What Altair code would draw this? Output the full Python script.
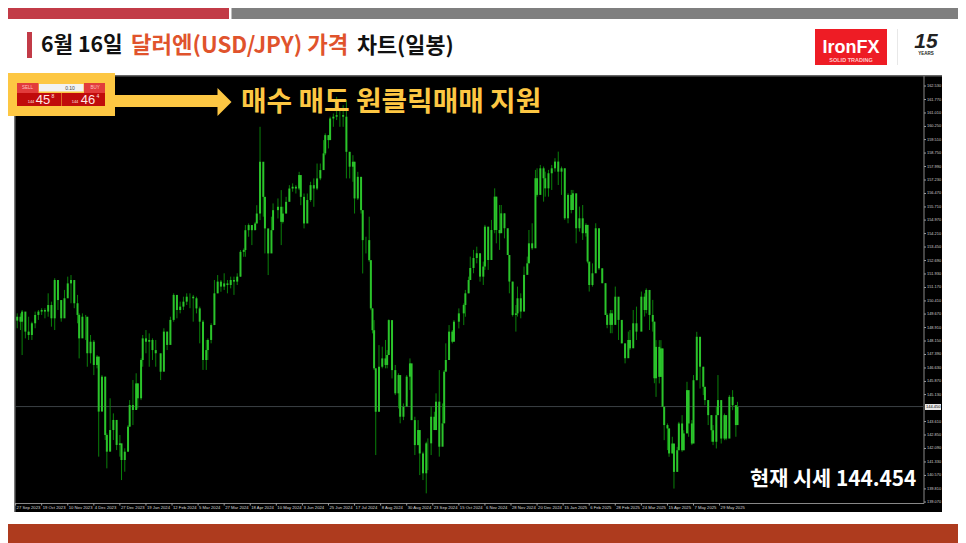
import altair as alt
import pandas as pd

# ---- chart values ----
sessions = [1,3,4,6,8,10,12,14,16,18,20,22,24,26,28,30,32,34,36,38,39,41,43,44,46,48,50,51,53,55,56,58,60,62,64,65,67,69,70,72,74,75,77,78,80,82,84,86,89,91,93,95,97,99,101,103,105,107,109,111,113,115,117,118,120,122,124,126,128,130,132,134,136,
138,140,141,143,145,147,148,150,152,153,155,157,158,161,163,164,166,168,170,172,174,175,177,179,181,183,185,187,189,190,192,193,195,197,199,201,203,205,207,208,210,212,213,215,217,218,219,
220,221,223,225,227,228,229,231,233,235,236,238,240,242,243,245,247,248,250,252,253,255,257,258,260,262,263,264,266,268,269,272,275,276,278,
279,281,283,285,287,288,290,292,294,295,297,298,300,302,303,305,307,308,310,312,314,315,317,319,320,322,324,325,327,329,331,333,335,337,339,341,342,344,346,348,350,351,352,354,356,358,360,362,363,365,366,368,370,372,374,376,377,379,381,384,386,387,389,391,392,
393,395,396,397,398,400,401,403,404,406,407,409,410,412,413,415,416,418,420,422,423,425,427,428,430,431,433,435,436,438,440,442,443]

closes = [149.52,149.24,149.81,148.68,148.49,149.15,149.62,149.81,149.90,149.81,150.18,149.43,151.59,150.46,149.43,150.56,151.40,151.59,150.28,149.62,148.30,149.52,149.52,147.46,148.11,146.80,147.27,144.17,146.14,142.85,141.91,143.13,143.70,142.29,142.38,141.44,141.91,143.32,144.54,144.26,145.76,144.92,147.08,148.30,148.11,148.21,147.64,147.46,146.42,148.68,147.93,149.34,150.75,149.90,150.09,150.37,150.65,150.65,150.56,149.99,149.24,147.08,147.64,148.21,149.05,150.84,151.50,151.22,151.40,151.31,151.59,151.50,151.78,
153.18,153.28,154.40,154.69,154.40,154.78,155.34,158.26,156.28,154.50,153.09,154.40,155.53,155.72,154.87,155.34,156.00,156.75,156.85,156.75,157.51,156.28,154.78,156.10,156.94,156.75,157.32,157.79,158.73,159.76,159.48,160.70,160.80,160.89,160.89,160.80,158.82,157.98,158.26,156.19,157.41,155.53,153.84,153.84,152.71,149.99,148.76,
146.61,144.16,146.70,147.17,146.80,147.36,149.33,146.51,145.20,146.23,143.88,144.45,146.14,146.89,143.69,142.28,143.13,141.81,140.69,142.38,142.38,143.88,143.13,144.73,142.19,143.51,146.42,147.08,148.68,148.11,149.24,149.71,150.18,150.84,151.59,
152.27,152.83,153.10,151.78,152.35,154.60,152.72,154.41,156.29,154.41,154.23,155.35,154.51,153.00,151.50,149.62,149.71,150.56,149.81,151.88,152.53,153.66,153.38,157.33,156.39,157.89,157.33,156.76,157.61,157.89,158.27,157.70,157.89,155.07,156.39,155.54,156.48,154.51,155.07,154.23,154.70,152.63,151.31,151.97,154.51,152.25,151.41,149.62,149.06,149.71,149.06,150.65,149.34,148.02,147.18,148.21,147.74,149.15,148.68,150.65,149.90,151.03,149.62,149.24,146.05,
147.82,146.13,147.73,144.44,143.41,143.22,141.81,142.37,140.77,141.99,143.50,141.99,142.94,145.38,143.50,142.37,145.94,148.39,146.70,145.57,144.82,143.97,143.12,142.47,143.97,144.82,142.65,143.97,142.65,145.00,144.53,143.41,144.44]

highs = [149.71,149.71,149.90,149.43,149.52,149.24,149.81,149.90,150.00,150.00,150.84,150.37,151.69,151.40,150.46,151.03,151.78,151.87,151.40,150.75,149.71,149.71,149.62,148.68,148.49,148.21,147.36,147.27,146.23,146.14,142.94,144.92,144.07,143.51,142.85,142.19,142.10,143.41,144.82,145.95,146.33,145.76,147.17,148.49,148.77,148.58,148.30,148.21,147.36,148.87,148.68,149.52,150.84,150.65,150.37,150.65,150.84,150.84,150.75,150.65,150.09,149.34,148.21,148.30,149.15,151.59,151.87,151.59,151.97,151.59,151.78,151.78,151.97,
153.28,153.37,154.69,154.78,154.69,154.87,155.81,160.23,157.88,156.28,154.22,155.16,155.91,156.19,156.66,155.72,156.28,156.94,157.04,156.94,157.69,157.32,156.47,156.47,157.13,157.32,158.16,158.16,159.48,159.86,159.76,160.80,160.98,161.92,161.17,161.45,161.74,158.82,158.63,158.26,157.69,156.94,155.53,154.03,155.16,152.71,149.99,
149.33,146.61,147.92,147.83,148.21,147.64,149.37,147.55,146.80,146.33,145.10,144.63,146.23,147.17,145.48,143.88,143.69,142.38,141.91,142.47,142.66,144.45,144.16,145.20,146.51,144.63,146.51,148.02,149.05,148.77,149.33,149.99,150.27,151.03,151.78,
152.91,153.29,153.47,153.00,152.63,154.70,153.85,154.98,156.76,156.29,155.82,155.82,155.35,154.13,153.00,151.50,150.18,151.22,150.84,152.35,152.91,154.41,154.79,157.80,157.89,158.08,157.99,157.70,157.80,158.08,158.46,158.83,157.99,157.89,156.48,156.67,156.67,155.92,155.73,155.82,154.79,154.32,152.53,152.53,154.79,152.91,152.25,151.41,149.71,149.90,149.90,151.22,150.18,149.15,147.93,148.68,148.77,149.90,150.09,150.94,150.84,151.12,150.47,150.47,149.24,
148.20,148.20,148.20,147.73,144.44,143.50,143.22,142.75,141.53,142.18,143.59,143.97,143.12,145.85,145.00,143.69,146.23,148.67,147.45,146.70,145.38,144.82,143.97,143.41,144.44,146.23,144.06,144.06,143.97,145.10,145.38,144.53,144.72]

lows = [148.87,148.77,147.36,148.30,148.21,148.21,148.87,149.34,149.62,149.43,149.52,148.96,148.77,149.90,149.24,149.90,150.84,150.28,150.00,149.15,147.17,148.68,148.21,146.70,146.89,146.23,146.61,141.63,144.82,142.57,140.97,142.00,142.57,142.00,141.63,140.31,140.78,141.91,143.32,143.41,144.35,144.35,144.82,146.70,147.46,146.70,147.08,146.70,145.95,147.83,147.64,148.02,149.24,149.43,149.71,149.90,150.18,150.00,149.24,149.71,148.02,146.52,146.52,147.08,148.02,150.18,150.84,150.93,151.03,150.84,151.12,150.75,151.31,
151.77,152.90,152.90,154.03,153.56,154.50,154.78,154.97,155.16,153.09,151.87,153.84,154.97,155.06,153.56,154.78,155.34,156.10,156.57,156.47,156.66,155.81,154.50,154.97,156.00,155.72,156.66,157.22,157.98,158.63,159.01,159.57,160.23,160.61,160.23,160.23,157.32,157.32,157.13,155.34,156.10,155.34,151.96,153.09,152.62,149.89,148.58,
146.51,141.72,144.54,146.61,146.61,146.61,147.45,146.04,145.10,144.35,143.51,143.69,145.01,145.39,143.69,141.72,142.28,140.59,140.31,139.56,140.87,141.72,143.13,143.32,141.63,143.51,143.51,146.51,147.36,148.02,148.49,148.86,149.05,149.52,150.84,
151.59,151.97,152.53,151.50,151.31,152.16,152.16,153.29,154.23,153.66,153.29,154.41,153.94,153.00,150.84,149.53,148.68,149.53,149.43,151.03,152.25,152.63,153.29,154.79,156.29,157.23,156.01,156.29,156.29,156.67,157.70,156.95,156.39,154.98,154.79,155.35,155.92,153.66,154.32,153.85,154.04,152.53,150.94,151.22,152.63,152.16,151.41,149.62,148.87,148.59,148.59,149.34,148.21,148.02,146.89,147.65,147.65,148.40,148.21,149.34,149.53,149.71,148.77,148.68,145.77,
145.00,145.76,146.13,144.44,142.56,142.00,141.62,141.81,139.83,141.43,142.56,141.90,141.99,143.59,142.75,142.28,144.44,145.94,145.47,145.10,144.53,143.41,142.47,142.28,142.09,144.16,142.37,142.56,142.56,143.97,144.25,142.75,143.88]

opens = [149.30] + closes[:-1]

price_ticks = [162.53,161.77,161.01,160.25,159.51,158.75,157.99,157.23,156.47,155.71,154.97,154.21,153.45,152.69,151.93,151.17,150.41,149.67,148.91,148.15,147.39,146.63,145.87,145.13,143.61,142.85,142.09,141.33,140.57,139.81,139.07]
date_ticks = [0,16,32,48,64,80,96,112,128,144,160,176,192,208,224,240,256,272,288,304,320,336,352,368,384,400,416,432]
date_labels = ["27 Sep 2023","19 Oct 2023","10 Nov 2023","4 Dec 2023","27 Dec 2023","19 Jan 2024","12 Feb 2024","5 Mar 2024","27 Mar 2024","18 Apr 2024","10 May 2024","3 Jun 2024","25 Jun 2024","17 Jul 2024","8 Aug 2024","30 Aug 2024","23 Sep 2024","15 Oct 2024","6 Nov 2024","28 Nov 2024","20 Dec 2024","15 Jan 2025","6 Feb 2025","28 Feb 2025","24 Mar 2025","15 Apr 2025","7 May 2025","29 May 2025"]
current_price = [144.454]

title_parts = ["6월 16일", "달러엔(USD/JPY) 가격", "차트(일봉)"]
banner = "매수 매도 원클릭매매 지원"
quote = "현재 시세 144.454"

FONT = "Noto Sans CJK KR"
TICKFONT = "Liberation Sans"
YELLOW = "#fdc743"
RED = "#c23b47"

df = pd.DataFrame({"s": sessions, "o": opens, "c": closes, "h": highs, "l": lows})
price_df = pd.DataFrame({"p": price_ticks, "t": [f"{v:.3f}" for v in price_ticks]})
date_df = pd.DataFrame({"s": date_ticks, "t": date_labels})

xs = alt.Scale(domain=[-4.66, 578.3], nice=False, zero=False)
ys = alt.Scale(domain=[136.76, 166.93], nice=False, zero=False)
X = lambda f: alt.X(f, scale=xs, axis=None)
Y = lambda f: alt.Y(f, scale=ys, axis=None)


def box(x0, y0, x1, y1, color):
    return alt.Chart().mark_rect(color=color).encode(
        x=alt.value(x0 - 8), x2=alt.value(x1 - 8), y=alt.value(y0 - 8), y2=alt.value(y1 - 8))


def txt(x, y, s, size, color, weight="normal", align="left", font=FONT, style="normal"):
    return alt.Chart().mark_text(fontSize=size, color=color, fontWeight=weight, align=align,
                                 baseline="middle", font=font, fontStyle=style).encode(
        x=alt.value(x - 8), y=alt.value(y - 8), text=alt.value(s))


wicks = alt.Chart(df).mark_rule(color="#0a800a", strokeWidth=1).encode(x=X("s:Q"), y=Y("h:Q"), y2="l:Q")
bodies = alt.Chart(df).mark_rule(color="#2bc42b", strokeWidth=2).encode(x=X("s:Q"), y=Y("o:Q"), y2="c:Q")
price_line = alt.Chart(pd.DataFrame({"p": current_price})).mark_rule(color="#3b4045", strokeWidth=1).encode(
    y=Y("p:Q"), x=alt.value(15 - 8), x2=alt.value(924 - 8))

price_ticks_marks = alt.Chart(price_df).mark_rule(color="#9a9a9a", strokeWidth=1).encode(
    y=Y("p:Q"), x=alt.value(924 - 8), x2=alt.value(926 - 8))
price_labels = alt.Chart(price_df).mark_text(fontSize=3.9, color="#cfcfcf", align="left", baseline="middle",
                                             font=TICKFONT).encode(
    y=Y("p:Q"), x=alt.value(927 - 8), text="t:N")
date_ticks_marks = alt.Chart(date_df).mark_rule(color="#9a9a9a", strokeWidth=1).encode(
    x=X("s:Q"), y=alt.value(503 - 8), y2=alt.value(505.5 - 8))
date_labels_marks = alt.Chart(date_df).mark_text(fontSize=4.2, color="#d8d8d8", align="left", baseline="middle",
                                                 font=TICKFONT, dx=1).encode(
    x=X("s:Q"), y=alt.value(507.5 - 8), text="t:N")

arrow_head = alt.Chart().mark_point(shape="M-0.5,-1L0.5,0L-0.5,1Z", size=784, filled=True, opacity=1,
                                    color=YELLOW).encode(x=alt.value(224.5 - 8), y=alt.value(102 - 8))

layers = [
    # page furniture
    box(8, 8, 229, 19, RED),
    box(231.5, 8, 966, 19, "#7f7f7f"),
    box(8, 524, 966, 543, "#ae3b1e"),
    box(27, 32, 32, 58, RED),
    txt(41, 46, title_parts[0], 21.3, "#111111", "bold"),
    txt(131, 46, title_parts[1], 22.3, "#e0532c", "bold"),
    txt(357, 46, title_parts[2], 21.8, "#111111", "bold"),
    # logo
    box(815, 29, 887, 65, "#ee1c25"),
    txt(851, 48, "IronFX", 18, "#ffffff", "bold", "center", "Liberation Sans"),
    txt(851, 60, "SOLID TRADING", 5.5, "#ffc9c9", "bold", "center", "Liberation Sans"),
    box(897, 29, 898, 65, "#e8e8e8"),
    txt(926, 42, "15", 21, "#222222", "bold", "center", "Liberation Sans", "italic"),
    txt(926, 54, "YEARS", 4.5, "#222222", "bold", "center", "Liberation Sans"),
    # chart panel
    box(14, 75, 942, 512, "#000000"),
    box(14, 75, 942, 76.5, "#666666"),
    box(14, 75, 15.5, 512, "#777777"),
    box(923.5, 76, 924.5, 503.5, "#888888"),
    box(15, 503, 924, 504, "#888888"),
    price_line,
    wicks,
    bodies,
    price_ticks_marks,
    price_labels,
    date_ticks_marks,
    date_labels_marks,
    box(925, 404, 941, 410, "#e8e8e8"),
    txt(926, 407, "144.450", 4, "#000000", font=TICKFONT),
    # trade panel
    box(7, 73, 115, 116, YELLOW),
    box(17, 83, 38.5, 93, "#e23b3b"),
    box(39, 84, 83.5, 91.5, "#f2f2f2"),
    box(84, 83, 105, 93, "#e23b3b"),
    box(17, 93, 61.5, 106, "#c00b0b"),
    box(62, 93, 105, 106, "#c00b0b"),
    txt(27.5, 88, "SELL", 4.5, "#ffc4c4", align="center", font=TICKFONT),
    txt(95, 88, "BUY", 4.5, "#ffc4c4", align="center", font=TICKFONT),
    txt(70, 87.5, "0.10", 5, "#444444", align="center", font=TICKFONT),
    txt(31, 102, "144", 4, "#ffe0e0", align="center", font=TICKFONT),
    txt(43, 100, "45", 13, "#ffe6e6", align="center", font="Liberation Sans"),
    txt(53, 95.5, "8", 5, "#ffe6e6", align="center", font=TICKFONT),
    txt(75, 102, "144", 4, "#ffe0e0", align="center", font=TICKFONT),
    txt(88, 100, "46", 13, "#ffe6e6", align="center", font="Liberation Sans"),
    txt(98, 95.5, "4", 5, "#ffe6e6", align="center", font=TICKFONT),
    # arrow and callouts
    box(115, 95, 218, 107, YELLOW),
    arrow_head,
    txt(241, 103, banner, 27.8, YELLOW, "bold"),
    txt(750, 480, quote, 20.8, "#ffffff", "bold"),
]

chart = alt.layer(*layers).properties(
    width=950, height=535, padding=0, background="#ffffff",
    autosize=alt.AutoSizeParams(type="none"),
).configure_view(stroke=None)

chart.save("out.html", embed_options={"renderer": "svg", "actions": False})
